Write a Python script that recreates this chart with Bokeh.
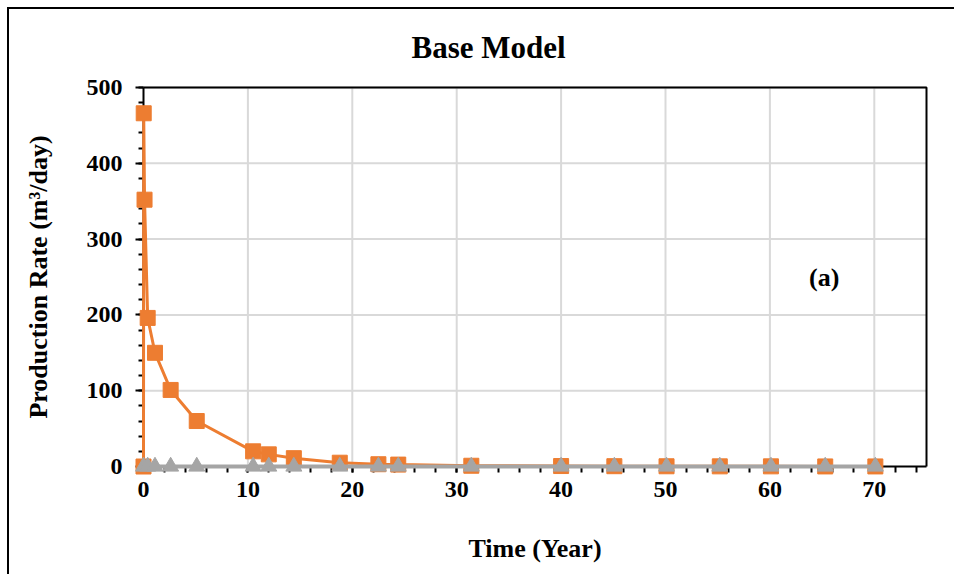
from bokeh.plotting import figure
from bokeh.models import Label, SingleIntervalTicker, Range1d, Title, LinearAxis, CustomJSTickFormatter
from bokeh.embed import file_html
from bokeh.resources import INLINE

# Data
oil_time = [0, 0.02, 0.1, 0.4, 1.1, 2.6, 5.1, 10.5, 12.0, 14.4, 18.8, 22.5, 24.4,
            31.4, 40.0, 45.1, 50.1, 55.2, 60.1, 65.3, 70.1]
oil_rate = [0, 466, 352, 196, 150, 101, 60, 20, 16, 11, 5, 3, 2.5,
            1.0, 0.6, 0.4, 0.3, 0.2, 0.2, 0.1, 0.1]
gas_time = [0, 0.4, 1.1, 2.6, 5.1, 10.5, 12.0, 14.4, 18.8, 22.5, 24.4,
            31.4, 40.0, 45.1, 50.1, 55.2, 60.1, 65.3, 70.1]
gas_rate = [0] * len(gas_time)

x_ticks = [0, 10, 20, 30, 40, 50, 60, 70]
y_ticks = [0, 100, 200, 300, 400, 500]
X_MIN, X_MAX = 0, 75
Y_MIN, Y_MAX = 0, 500

FONT = "Liberation Serif"
ORANGE = "#ED7D31"
GRAY = "#A5A5A5"
GRID = "#D9D9D9"

# frame geometry (px) -> padding so markers at the axes are not clipped
FRAME_W, FRAME_H, PAD = 783, 379, 10
xpad = PAD * (X_MAX - X_MIN) / FRAME_W
ypad = PAD * (Y_MAX - Y_MIN) / FRAME_H

p = figure(width=947, height=567, output_backend="svg", toolbar_location=None,
           x_range=Range1d(X_MIN - xpad, X_MAX + xpad),
           y_range=Range1d(Y_MIN - ypad, Y_MAX + ypad),
           min_border_left=124, min_border_right=20, min_border_top=68, min_border_bottom=100,
           styles={"margin-left": "7px", "margin-top": "7px",
                   "border-left": "2px solid black", "border-top": "2px solid black"})

p.outline_line_color = None
p.background_fill_color = "white"
p.border_fill_color = "white"
p.xgrid.visible = False
p.ygrid.visible = False

xticker = SingleIntervalTicker(interval=10, num_minor_ticks=5)
yticker = SingleIntervalTicker(interval=100, num_minor_ticks=5)

# Label axes (at the frame edge): only the tick labels and axis titles
for ax in (p.xaxis[0], p.yaxis[0]):
    ax.axis_line_color = None
    ax.major_tick_line_color = None
    ax.minor_tick_line_color = None
    ax.major_tick_out = 0
    ax.minor_tick_out = 0
    ax.major_tick_in = 0
    ax.minor_tick_in = 0
    ax.major_label_text_font = FONT
    ax.major_label_text_font_style = "bold"
    ax.major_label_text_font_size = "24px"
    ax.major_label_text_color = "black"
    ax.axis_label_text_font = FONT
    ax.axis_label_text_font_style = "bold"
    ax.axis_label_text_font_size = "26px"
    ax.axis_label_text_color = "black"
p.xaxis[0].ticker = xticker
p.yaxis[0].ticker = yticker
p.xaxis.major_label_standoff = 5
p.yaxis.major_label_standoff = 11
p.xaxis.axis_label = "Time (Year)"
p.yaxis.axis_label = "Production Rate (m³/day)"
p.xaxis.axis_label_standoff = 34
p.yaxis.axis_label_standoff = 31

# Line axes placed at x=0 / y=0 (lines and ticks only, no labels)
def line_axis(ticker, loc, bounds, tick_major, tick_minor):
    return LinearAxis(ticker=ticker, fixed_location=loc, bounds=bounds,
                      axis_line_color="black", axis_line_width=2,
                      major_tick_line_color="black", major_tick_line_width=2,
                      minor_tick_line_color="black", minor_tick_line_width=2,
                      major_tick_in=0, minor_tick_in=0,
                      major_tick_out=tick_major, minor_tick_out=tick_minor,
                      formatter=CustomJSTickFormatter(code="return ''"),
                      major_label_standoff=0, level="underlay")

p.add_layout(line_axis(yticker, X_MIN, (Y_MIN, Y_MAX), 8, 5), "left")
p.add_layout(line_axis(xticker, Y_MIN, (X_MIN, X_MAX), 6, 6), "below")

# Gridlines (from tick lists)
vx = [t for t in x_ticks if t > X_MIN]
p.segment(x0=vx, y0=[Y_MIN] * len(vx), x1=vx, y1=[Y_MAX] * len(vx),
          line_color=GRID, line_width=2, level="underlay")
hy = [t for t in y_ticks if t > Y_MIN]
p.segment(x0=[X_MIN] * len(hy), y0=hy, x1=[X_MAX] * len(hy), y1=hy,
          line_color=GRID, line_width=2, level="underlay")
# Top and right plot frame lines
p.line(x=[X_MIN, X_MAX, X_MAX], y=[Y_MAX, Y_MAX, Y_MIN], line_color="black", line_width=2,
       level="underlay")

# Title
title = Title(text="Base Model", align="left", offset=278, text_font=FONT,
              text_font_style="bold", text_font_size="31px", text_color="black",
              standoff=25)
p.add_layout(title, "above")

# Series
p.line(oil_time, oil_rate, line_color=ORANGE, line_width=3)
p.scatter(oil_time, oil_rate, marker="square", size=15, fill_color=ORANGE, line_color=ORANGE)
p.line(gas_time, gas_rate, line_color=GRAY, line_width=4)
p.scatter(gas_time, gas_rate, marker="triangle", size=16, fill_color=GRAY, line_color=GRAY)

lab = Label(x=65.2, y=250, text="(a)", text_font=FONT, text_font_style="bold",
            text_font_size="26px", text_align="center", text_baseline="middle",
            text_color="black")
p.add_layout(lab)

open("out.html", "w").write(file_html(p, INLINE))
